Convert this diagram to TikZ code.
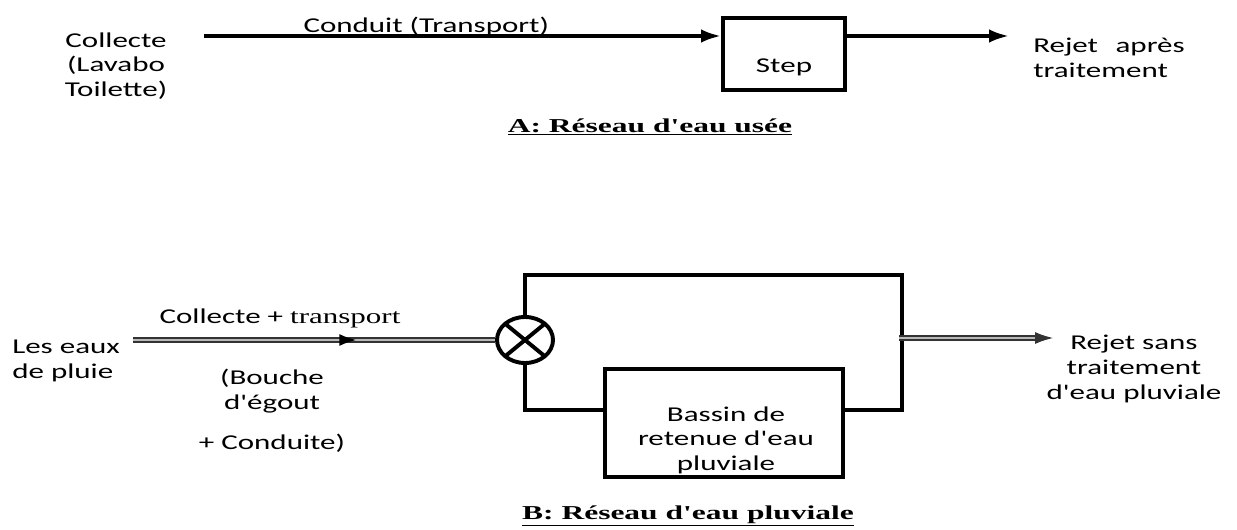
\documentclass[tikz,border=0pt]{standalone}
\usepackage{fontspec}
\setmainfont{Carlito}[FakeStretch=1.47, Ligatures=TeXOff]
\newfontfamily\serifword{Liberation Serif}[FakeStretch=1.47, Ligatures=TeXOff]
\newfontfamily\capfont{Liberation Serif}[FakeStretch=1.6, Ligatures=TeXOff]
\usetikzlibrary{arrows.meta, positioning, shapes.geometric, decorations.markings}

\begin{document}
\begin{tikzpicture}[
  x=0.025cm, y=-0.025cm,
  txt/.style={inner sep=0pt, font=\fontsize{15}{17.5}\selectfont},
  captitle/.style={inner sep=0pt, font=\capfont\bfseries\fontsize{14}{17}\selectfont},
  stepbox/.style={
    draw, line width=2.8pt,
    minimum width=3.05cm, minimum height=1.8cm
  },
  basin/.style={
    draw, line width=2.8pt,
    minimum width=5.95cm, minimum height=2.7cm
  },
  valve/.style={
    draw, ellipse, line width=2.8pt, inner sep=0pt,
    minimum width=1.4cm, minimum height=1.15cm,
    path picture={
      \draw[line width=2.8pt]
        (path picture bounding box.south west) -- (path picture bounding box.north east)
        (path picture bounding box.north west) -- (path picture bounding box.south east);
    }
  },
  flow/.style={line width=2.6pt, -{Latex[length=0.5cm, width=0.34cm]}},
  pipe/.style={draw=black!80, double=gray!55, line width=0.8pt, double distance=2pt},
  loopline/.style={line width=2.8pt}
]
  \useasboundingbox (0,0) rectangle (1237,530);

  % A: eaux usees
  \node[txt, align=center] (collecte) at (116,66) {Collecte\\(Lavabo\\Toilette)};
  \coordinate (srcA) at (204,36);
  \node[stepbox] (step) at (784,54) {};
  \node[txt] (steplbl) at (784,67) {Step};
  \coordinate (rejA) at (1009,36);
  \node[txt, align=left, anchor=west] (rejetA) at (1033,58)
    {Rejet\hspace{0.5em} après\\traitement};
  \node[captitle] (titleA) at (650,127) {\underline{A: Réseau d'eau usée}};

  \draw[flow] (srcA) -- node[txt, pos=0.43, anchor=base, yshift=2.5pt] (conduit)
    {Conduit (Transport)} (srcA -| step.west);
  \draw[flow] (srcA -| step.east) -- (rejA);

  % B: eaux pluviales
  \node[txt, align=left, anchor=west] (pluie) at (12,361) {Les eaux\\de pluie};
  \coordinate (srcB) at (133,340);
  \node[valve] (valve) at (525,340) {};
  \node[txt] (coltr) at (280,318) {Collecte + {\serifword transport}};
  \node[txt, align=center] (bouche) at (272,411) {(Bouche\\d'égout\\[11pt]+ Conduite)};
  \node[basin] (bassin) at (724,423) {};
  \node[txt, align=center] (bassinlbl) at (726,440) {Bassin de\\retenue d'eau\\pluviale};
  \coordinate (topB) at (902,275);
  \coordinate (lowB) at (525,410);
  \coordinate (outB) at (899,338);
  \coordinate (rejB) at (1053,338);
  \node[txt, align=center] (rejetB) at (1134,369) {Rejet sans\\traitement\\d'eau pluviale};
  \node[captitle] (titleB) at (688,516) {\underline{B: Réseau d'eau pluviale}};

  \draw[pipe, postaction={decorate, decoration={markings,
      mark=at position 0.62 with {\arrow[black]{Latex[length=0.45cm, width=0.3cm]}}}}]
    (srcB) -- (valve.west);
  \draw[loopline] (valve.north) |- (topB) |- (bassin.east |- lowB);
  \draw[loopline] (valve.south) |- (bassin.west |- lowB);
  \draw[pipe, -{Latex[length=0.45cm, width=0.3cm]}] (outB) -- (rejB);

\end{tikzpicture}
\end{document}
